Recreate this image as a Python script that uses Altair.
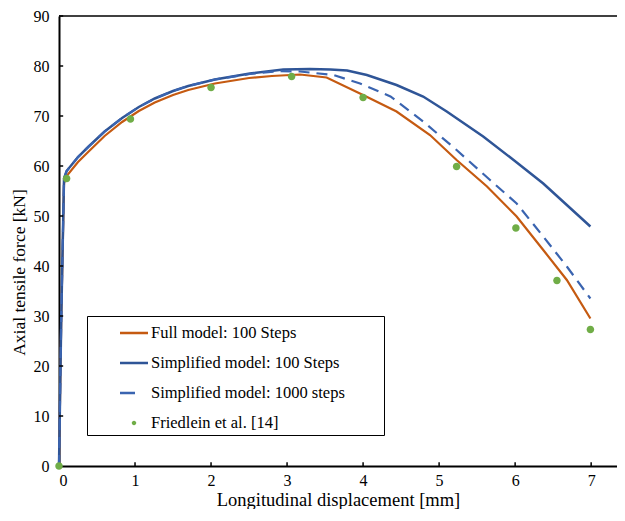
import altair as alt
import pandas as pd

FONT = "Liberation Serif"

series_names = [
    "Full model: 100 Steps",
    "Simplified model: 100 Steps",
    "Simplified model: 1000 steps",
    "Friedlein et al. [14]",
]
series_colors = ["#C55A11", "#2F5597", "#3A64B0", "#70AD47"]

# Full model: 100 Steps
x_full = [0, 0.03, 0.066, 0.1, 0.25, 0.39, 0.6, 0.83, 1.05, 1.26, 1.5, 1.7, 2.05, 2.5,
          2.8, 3.17, 3.52, 4.0, 4.44, 4.88, 5.23, 5.63, 6.02, 6.37, 6.68, 6.99]
y_full = [0, 30, 56.5, 58.0, 60.8, 62.9, 66.0, 68.8, 71.0, 72.7, 74.2, 75.2, 76.5, 77.6,
          78.0, 78.3, 77.7, 74.2, 70.9, 66.2, 61.2, 55.9, 49.9, 43.2, 37.2, 29.5]

# Simplified model: 100 Steps
x_s100 = [0, 0.03, 0.066, 0.1, 0.25, 0.39, 0.6, 0.83, 1.05, 1.26, 1.5, 1.7, 2.05, 2.51,
          2.95, 3.3, 3.57, 3.79, 4.05, 4.44, 4.79, 5.1, 5.58, 5.98, 6.37, 6.68, 6.99]
y_s100 = [0, 30, 57.5, 59.0, 61.8, 63.9, 66.9, 69.6, 71.8, 73.5, 75.0, 76.0, 77.3, 78.5,
          79.3, 79.4, 79.3, 79.1, 78.2, 76.2, 73.9, 70.9, 65.9, 61.2, 56.5, 52.2, 47.9]

# Simplified model: 1000 steps
x_s1000 = [0, 0.03, 0.066, 0.1, 0.25, 0.39, 0.6, 0.83, 1.05, 1.26, 1.5, 1.7, 2.05, 2.51,
           2.9, 3.17, 3.61, 3.96, 4.36, 4.79, 5.23, 5.67, 6.02, 6.37, 6.68, 6.99]
y_s1000 = [0, 30, 57.5, 59.0, 61.8, 63.9, 66.9, 69.6, 71.8, 73.5, 75.0, 76.0, 77.3, 78.4,
           79.0, 78.9, 78.2, 76.5, 73.9, 68.9, 63.2, 57.2, 52.5, 45.9, 39.9, 33.5]

# Friedlein et al. [14]
x_exp = [0, 0.1, 0.94, 2.0, 3.06, 4.0, 5.23, 6.01, 6.55, 6.99]
y_exp = [0, 57.5, 69.4, 75.7, 77.9, 73.7, 59.9, 47.6, 37.1, 27.3]

x_tick_values = [0, 1, 2, 3, 4, 5, 6, 7]
y_tick_values = [0, 10, 20, 30, 40, 50, 60, 70, 80, 90]
X_MAX = 7.34
Y_MAX = 90

# legend symbols (unit-square SVG paths)
BAR = "M-1,-0.09H1V0.09H-1Z"
DASH = "M-1,-0.09H0.07V0.09H-1Z"
DOT = "M0.16,0A0.16,0.16,0,1,1,-0.16,0A0.16,0.16,0,1,1,0.16,0Z"
legend_shapes = [BAR, BAR, DASH, DOT]

# invisible (blank glyph) trailing padding so the legend frame is as wide as in the reference
PAD = "\u2800" * 3
series_keys = [name + PAD for name in series_names]


def frame(xs, ys, key):
    return pd.DataFrame({"x": xs, "y": ys, "series": key})


df_full = frame(x_full, y_full, series_keys[0])
df_s100 = frame(x_s100, y_s100, series_keys[1])
df_s1000 = frame(x_s1000, y_s1000, series_keys[2])
df_exp = frame(x_exp, y_exp, series_keys[3])

x_scale = alt.Scale(domain=[0, X_MAX], nice=False, zero=False)
y_scale = alt.Scale(domain=[0, Y_MAX], nice=False)

x_axis = alt.Axis(
    values=x_tick_values, title="Longitudinal displacement [mm]", grid=False, ticks=False,
    domainColor="black", domainWidth=2, labelFont=FONT, labelFontSize=16, labelColor="black",
    labelPadding=6, titleFont=FONT, titleFontSize=18.5, titleFontWeight="normal",
    titleColor="black", titleY=33, titleBaseline="middle",
)
y_axis = alt.Axis(
    values=y_tick_values, title="Axial tensile force [kN]", grid=False, ticks=False,
    domainColor="black", domainWidth=2, labelFont=FONT, labelFontSize=16, labelColor="black",
    labelPadding=10, titleFont=FONT, titleFontSize=17.5, titleFontWeight="normal",
    titleColor="black", titleX=-40, titleY=256, titleAlign="center", titleBaseline="middle",
    titleAngle=270,
)


def X(field="x"):
    return alt.X(f"{field}:Q", scale=x_scale, axis=x_axis)


def Y(field="y"):
    return alt.Y(f"{field}:Q", scale=y_scale, axis=y_axis)


line_full = alt.Chart(df_full).mark_line(color=series_colors[0], strokeWidth=2.2).encode(x=X(), y=Y())
line_s100 = alt.Chart(df_s100).mark_line(color=series_colors[1], strokeWidth=2.5).encode(x=X(), y=Y())
line_s1000 = alt.Chart(df_s1000).mark_line(
    color=series_colors[2], strokeWidth=2.2, strokeDash=[11, 7]
).encode(x=X(), y=Y())

legend_props = dict(
    title=None, orient="none", legendX=28, legendY=300, direction="vertical",
    symbolSize=784, symbolStrokeWidth=0, labelFont=FONT, labelFontSize=16.5,
    labelColor="black", labelOffset=3, symbolOffset=30, padding=3, rowPadding=7,
    strokeColor="black", fillColor="white", labelLimit=400, cornerRadius=0,
)

points = alt.Chart(df_exp).mark_point(filled=True, opacity=1, size=2200, strokeWidth=0).encode(
    x=X(), y=Y(),
    color=alt.Color("series:N", scale=alt.Scale(domain=series_keys, range=series_colors),
                    legend=alt.Legend(**legend_props)),
    shape=alt.Shape("series:N", scale=alt.Scale(domain=series_keys, range=legend_shapes),
                    legend=alt.Legend(**legend_props)),
)

# inside tick marks and top frame line
xt = pd.DataFrame({"x": x_tick_values[1:], "y0": [0] * 7, "y1": [0.75] * 7})
yt = pd.DataFrame({"y": y_tick_values[1:], "x0": [0] * 9, "x1": [0.055] * 9})
x_ticks = alt.Chart(xt).mark_rule(color="black", strokeWidth=1.5).encode(x=X(), y=Y("y0"), y2="y1")
y_ticks = alt.Chart(yt).mark_rule(color="black", strokeWidth=1.5).encode(y=Y(), x=X("x0"), x2="x1")
top_line = alt.Chart(pd.DataFrame({"y": [Y_MAX]})).mark_rule(color="black", strokeWidth=1.6).encode(y=Y())

chart = alt.layer(line_full, line_s100, line_s1000, points, x_ticks, y_ticks, top_line).properties(
    width=558, height=450,
    autosize=alt.AutoSizeParams(type="none"),
    padding={"left": 51, "top": 8, "right": 0, "bottom": 43},
    background="white",
).configure_view(stroke=None)

chart.save("out.html", embed_options={"renderer": "svg", "actions": False})
